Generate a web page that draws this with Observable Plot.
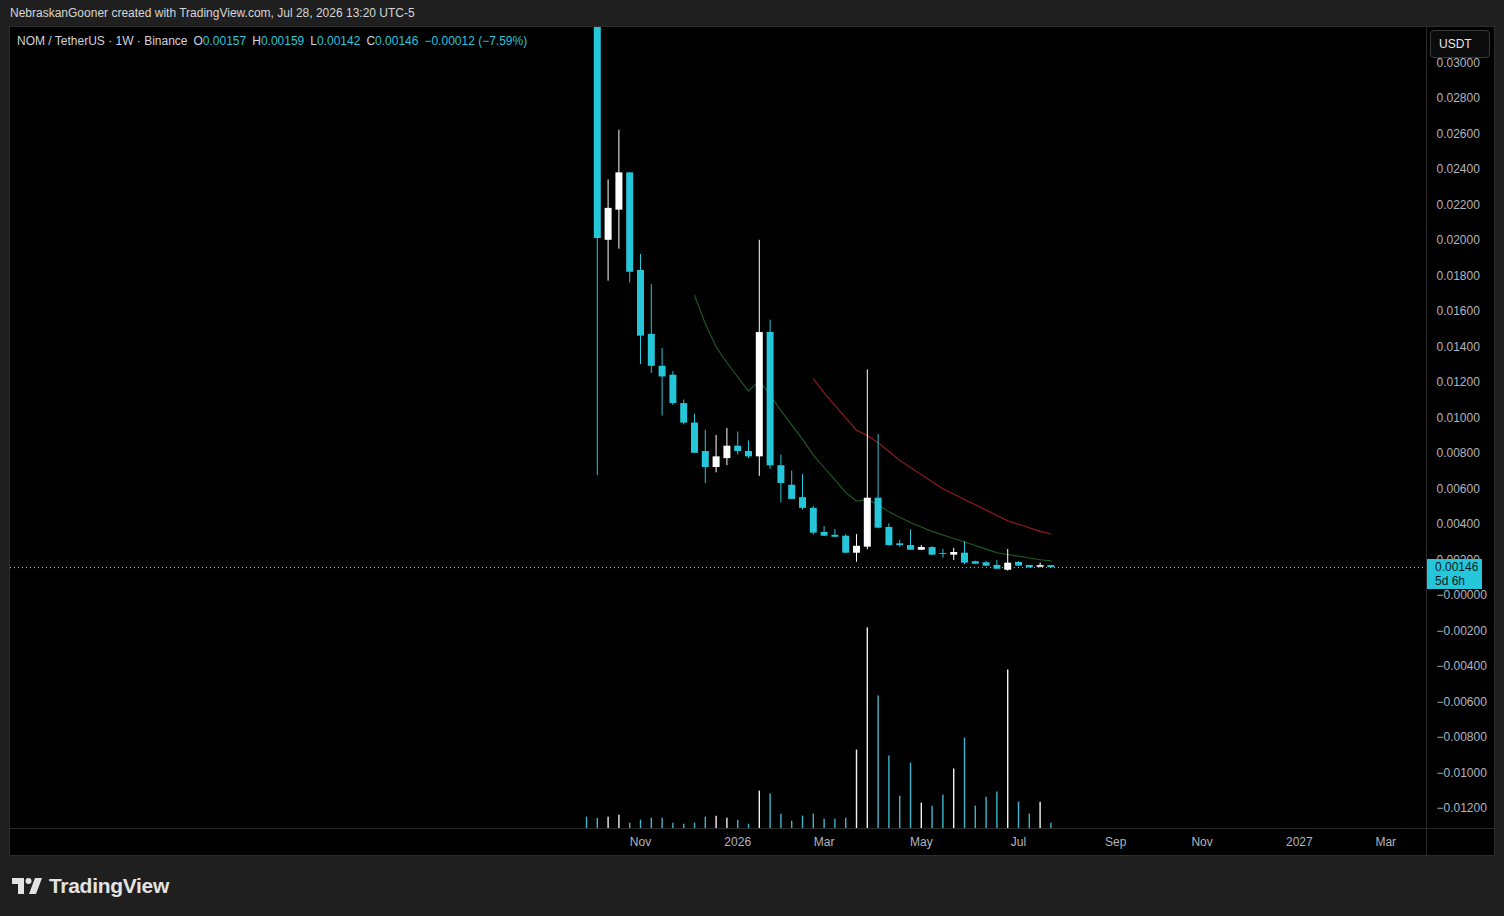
<!DOCTYPE html>
<html>
<head>
<meta charset="utf-8">
<script src="https://cdn.jsdelivr.net/npm/d3@7"></script>
<script src="https://cdn.jsdelivr.net/npm/@observablehq/plot@0.6"></script>
<style>
  html, body { margin: 0; padding: 0; }
  body { width: 1504px; height: 916px; overflow: hidden; background: #1f1f1f; font-family: "Liberation Sans", Arial, sans-serif; position: relative; }
  #hdr { position: absolute; left: 10px; top: 6px; font-size: 12px; color: #d6d6d6; white-space: nowrap; }
  #pane { position: absolute; left: 10px; top: 27px; width: 1484px; height: 828px; background: #000; box-shadow: 0 0 0 1px #2c2c2c; }
  #pane svg { position: absolute; left: 0; top: 0; }
  .sepV { position: absolute; left: 1416px; top: 0; width: 1px; height: 828px; background: #2a2a2a; }
  .sepH { position: absolute; left: 0; top: 801px; width: 1484px; height: 1px; background: #2a2a2a; }
  #legend { position: absolute; left: 7px; top: 7px; font-size: 12px; color: #d1d4dc; white-space: nowrap; z-index: 5; }
  #legend .v { color: #26c6da; }
  #legend .g { margin-left: 6px; }
  #usdt { position: absolute; left: 1420px; top: 3px; width: 60px; height: 28px; box-sizing: border-box; border: 1px solid #3a3a3a; border-radius: 4px; background: #0b0b0b; color: #e6e6e6; font-size: 12px; line-height: 26px; padding-left: 8px; z-index: 6; }
  #plabel { position: absolute; left: 1417px; width: 55px; height: 30px; background: #26c6da; color: #0c1a1e; font-size: 12px; line-height: 14px; padding: 1px 0 0 8px; box-sizing: border-box; z-index: 6; }
  #logo { position: absolute; left: 12px; top: 874px; display: flex; align-items: center; color: #e3e3e3; }
  #logo span { font-size: 21px; font-weight: bold; margin-left: 7px; letter-spacing: -0.3px; }
</style>
</head>
<body>
<div id="hdr">NebraskanGooner created with TradingView.com, Jul 28, 2026 13:20 UTC-5</div>
<div id="pane">
  <div class="sepV"></div>
  <div class="sepH"></div>
  <div id="legend">NOM / TetherUS · 1W · Binance<span class="g">O<span class="v">0.00157</span></span><span class="g">H<span class="v">0.00159</span></span><span class="g">L<span class="v">0.00142</span></span><span class="g">C<span class="v">0.00146</span></span><span class="g v">−0.00012 (−7.59%)</span></div>
  <div id="usdt">USDT</div>
</div>
<div id="logo">
  <svg width="30" height="16" viewBox="0 0 30 16"><path d="M0 0H12V16H6V6H0Z" fill="#e3e3e3"/><circle cx="16.5" cy="3" r="3" fill="#e3e3e3"/><path d="M23 0H30L24 16H17Z" fill="#e3e3e3"/></svg>
  <span>TradingView</span>
</div>
<script>
// ---- data ----
const weeks = ["2025-09-29","2025-10-06","2025-10-13","2025-10-20","2025-10-27","2025-11-03","2025-11-10","2025-11-17","2025-11-24","2025-12-01","2025-12-08","2025-12-15","2025-12-22","2025-12-29","2026-01-05","2026-01-12","2026-01-19","2026-01-26","2026-02-02","2026-02-09","2026-02-16","2026-02-23","2026-03-02","2026-03-09","2026-03-16","2026-03-23","2026-03-30","2026-04-06","2026-04-13","2026-04-20","2026-04-27","2026-05-04","2026-05-11","2026-05-18","2026-05-25","2026-06-01","2026-06-08","2026-06-15","2026-06-22","2026-06-29","2026-07-06","2026-07-13","2026-07-20","2026-07-27"];
const openP  = [0.0600,0.0340,0.0199,0.0216,0.0237,0.0182,0.0146,0.0128,0.0123,0.0107,0.0096,0.0080,0.0071,0.0076,0.0083,0.0080,0.0077,0.0147,0.0072,0.0061,0.0054,0.0048,0.00344,0.00328,0.00323,0.00227,0.00261,0.00537,0.00372,0.0028,0.0027,0.00244,0.00259,0.00225,0.00216,0.00227,0.00179,0.00173,0.00158,0.00131,0.00175,0.00158,0.00148,0.00157];
const highP  = [0.0800,0.0360,0.0233,0.0261,0.0237,0.0191,0.0174,0.0138,0.0125,0.0109,0.0101,0.0092,0.0089,0.0093,0.0091,0.0086,0.0199,0.0154,0.0078,0.0069,0.0067,0.0049,0.00377,0.00361,0.00332,0.00332,0.0126,0.00896,0.00393,0.00299,0.00359,0.0027,0.00263,0.00248,0.00255,0.00293,0.00182,0.00182,0.00186,0.00248,0.0018,0.00158,0.00171,0.00159];
const lowP   = [0.0330,0.00665,0.0176,0.0194,0.0175,0.0129,0.0124,0.0100,0.0106,0.0095,0.0079,0.0062,0.0068,0.0072,0.0078,0.0076,0.0066,0.0070,0.0051,0.0053,0.0047,0.0033,0.00321,0.00314,0.00224,0.00176,0.00246,0.00364,0.00266,0.00261,0.00242,0.00242,0.00214,0.00199,0.00186,0.00163,0.00163,0.00152,0.00135,0.00126,0.00152,0.00145,0.00145,0.00142];
const closeP = [0.0340,0.0200,0.0217,0.0237,0.0181,0.0145,0.0128,0.0122,0.0107,0.0096,0.0079,0.0071,0.0077,0.0083,0.0080,0.0077,0.0147,0.0072,0.0062,0.0053,0.0048,0.0034,0.00323,0.00317,0.00227,0.00266,0.00537,0.00368,0.0027,0.0027,0.00244,0.00259,0.00216,0.0022,0.00231,0.00171,0.00165,0.00154,0.00137,0.00171,0.00154,0.00145,0.00157,0.00146];
const volume = [3.4,3.0,3.4,4.0,1.6,2.5,3.1,3.1,1.6,1.3,1.6,3.4,3.7,3.1,2.5,1.3,11.2,10.3,4.3,2.2,3.7,4.3,2.8,2.8,3.1,23.5,60.1,39.7,21.7,9.7,19.6,7.6,6.7,10.0,17.8,27.1,6.7,9.4,10.9,47.5,7.9,4.3,7.9,1.6];
const maGreen = [null,null,null,null,null,null,null,null,null,null,0.0168,0.0152,0.0139,0.0130,0.0122,0.0114,0.0120,0.0112,0.0103,0.0095,0.0087,0.0078,0.0071,0.0064,0.0057,0.0052,0.0053,0.0050,0.0046,0.0043,0.0040,0.00375,0.0035,0.0033,0.0031,0.0029,0.0027,0.0025,0.0023,0.0022,0.0021,0.0020,0.0019,0.00184];
const maRed = [null,null,null,null,null,null,null,null,null,null,null,null,null,null,null,null,null,null,null,null,null,0.0121,0.0113,0.0106,0.0099,0.0092,0.0089,0.0085,0.0080,0.0075,0.0071,0.0067,0.0063,0.0059,0.0056,0.0053,0.0050,0.0047,0.0044,0.0041,0.0039,0.0037,0.0035,0.00335];
const yTicks = [-0.012,-0.010,-0.008,-0.006,-0.004,-0.002,0,0.002,0.004,0.006,0.008,0.010,0.012,0.014,0.016,0.018,0.020,0.022,0.024,0.026,0.028,0.030];
const xTickDates = ["2025-11-03","2026-01-05","2026-03-02","2026-05-04","2026-07-06","2026-09-07","2026-11-02","2027-01-04","2027-03-01"];
const xTickLabels = ["Nov","2026","Mar","May","Jul","Sep","Nov","2027","Mar"];
const lastClose = 0.00146;
const countdown = "5d 6h";

// ---- build ----
const UP = "#ffffff", DOWN = "#26c6da";
const candles = weeks.map((w, i) => ({
  date: new Date(w), open: openP[i], high: highP[i], low: lowP[i], close: closeP[i],
  volume: volume[i], green: maGreen[i], red: maRed[i],
  color: closeP[i] >= openP[i] ? UP : DOWN
}));
const xDomain = [new Date("2024-09-20T16:00Z"), new Date("2027-03-27T10:30Z")];
const tickDates = xTickDates.map(d => new Date(d));
const labelOf = new Map(tickDates.map((d, i) => [+d, xTickLabels[i]]));

const W = 1484, H = 828;
const common = {
  width: W, height: H,
  marginLeft: 0, marginRight: 68, marginTop: 0, marginBottom: 27,
  style: {background: "transparent", color: "#b2b5be", fontFamily: "'Liberation Sans', Arial, sans-serif", fontSize: "12px"}
};

const volPlot = Plot.plot({
  ...common,
  x: {type: "utc", domain: xDomain, axis: null},
  y: {domain: [0, 240], axis: null},
  marks: [
    Plot.ruleX(candles, {x: "date", y1: 0, y2: "volume", stroke: d => d.color === UP ? "#f2f2f2" : "#3cb7cf", strokeWidth: 1.4})
  ]
});

const fmtY = d => (d <= 0 ? "\u2212" : "") + Math.abs(d).toFixed(5);

const mainPlot = Plot.plot({
  ...common,
  x: {type: "utc", domain: xDomain},
  y: {domain: [-0.01324, 0.03189]},
  marks: [
    Plot.ruleY([lastClose], {stroke: "#9fd4df", strokeDasharray: "1,3", strokeWidth: 1}),
    Plot.line(candles.filter(d => d.green != null), {x: "date", y: "green", stroke: "#1f5e22", strokeWidth: 1.1}),
    Plot.line(candles.filter(d => d.red != null), {x: "date", y: "red", stroke: "#9a1c1c", strokeWidth: 1.1}),
    Plot.ruleX(candles, {x: "date", y1: "low", y2: "high", stroke: "color", strokeWidth: 1, clip: true}),
    Plot.ruleX(candles, {x: "date", y1: "open", y2: "close", stroke: "color", strokeWidth: 7, clip: true}),
    Plot.axisY({anchor: "right", ticks: yTicks, tickFormat: fmtY, tickSize: 0, tickPadding: 10, dy: 2, fill: "#b2b5be"}),
    Plot.axisX({anchor: "bottom", ticks: tickDates, tickFormat: d => labelOf.get(+d), tickSize: 0, tickPadding: 9, fill: "#b2b5be"})
  ]
});

const pane = document.getElementById("pane");
pane.appendChild(volPlot);
pane.appendChild(mainPlot);

// last price label, positioned with the plot's own y scale
const ys = mainPlot.scale("y");
const yPix = ys.apply(lastClose);
const lab = document.createElement("div");
lab.id = "plabel";
lab.style.top = (yPix - 8) + "px";
lab.innerHTML = fmtY(lastClose) + "<br>" + countdown;
pane.appendChild(lab);
</script>
</body>
</html>
